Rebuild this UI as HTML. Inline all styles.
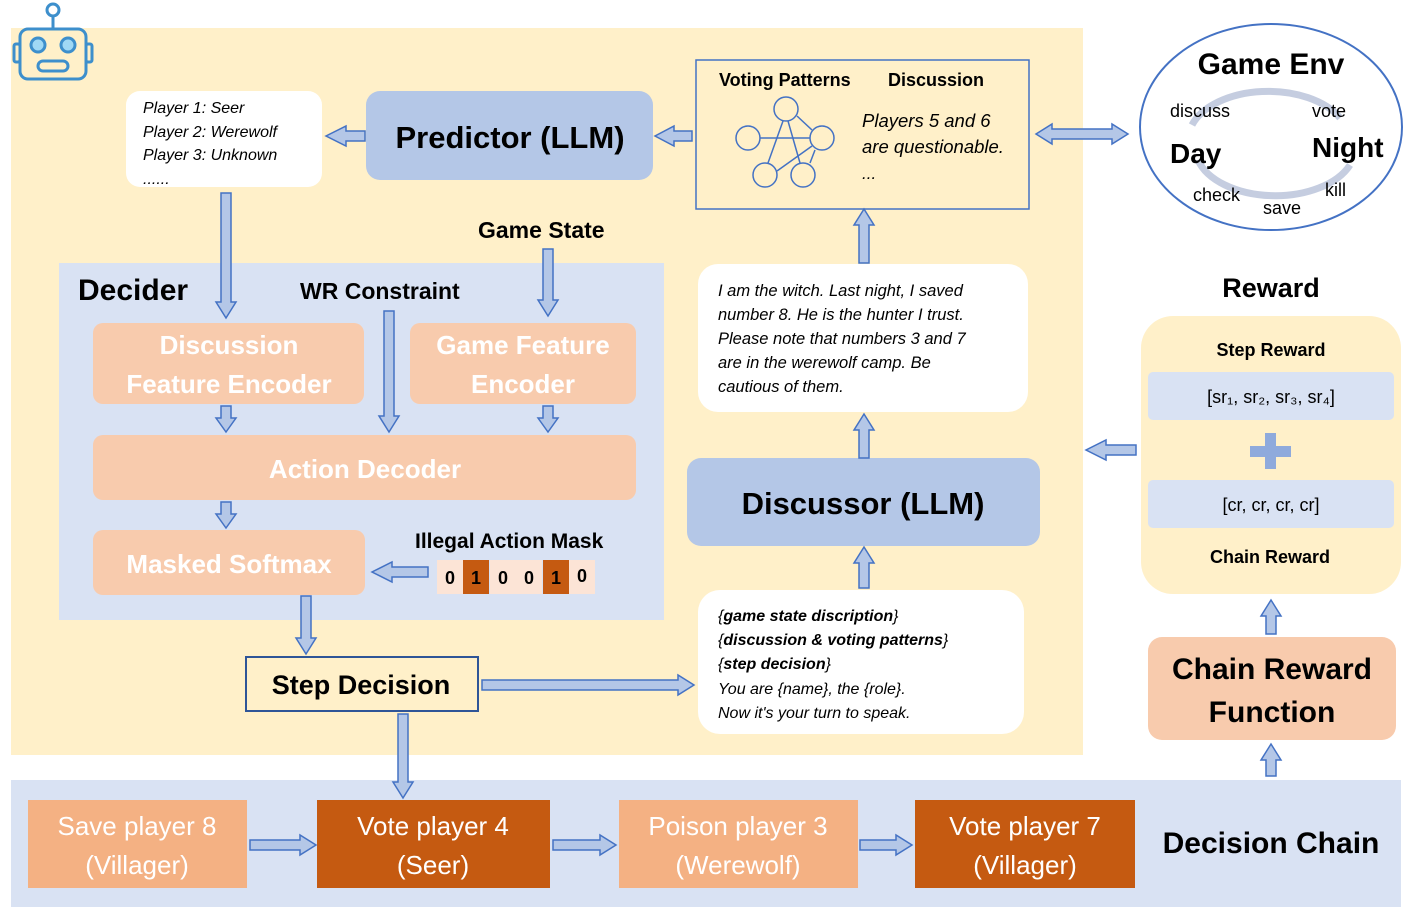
<!DOCTYPE html>
<html><head><meta charset="utf-8"><style>
html,body{margin:0;padding:0;background:#fff}
svg{display:block}
text{font-family:"Liberation Sans",sans-serif}
.a{fill:#b4c7e7;stroke:#4472c4;stroke-width:1.5}
.b{font-weight:bold}
.w{fill:#fff;font-weight:bold;font-size:26px}
.i{font-style:italic;font-size:16px}
.c{fill:#fff;font-size:26px}
</style></head><body>
<svg width="1411" height="914" viewBox="0 0 1411 914" xmlns="http://www.w3.org/2000/svg">
<rect x="11" y="28" width="1072" height="727" fill="#fff0c9"/>
<rect x="11" y="780" width="1390" height="127" fill="#d9e2f3"/>
<rect x="59" y="263" width="605" height="357" fill="#d9e2f3"/>

<g fill="none" stroke="#3d8fcc" stroke-width="3">
<circle cx="53" cy="10" r="6"/><line x1="53" y1="16" x2="53" y2="28"/>
<rect x="20" y="29" width="66" height="50" rx="8"/>
<rect x="14" y="44" width="6" height="18" rx="2"/><rect x="86" y="44" width="6" height="18" rx="2"/>
<rect x="38" y="61" width="30" height="10" rx="5"/>
</g>
<circle cx="38" cy="45" r="7" fill="#9fd8f5" stroke="#3d8fcc" stroke-width="3"/>
<circle cx="68" cy="45" r="7" fill="#9fd8f5" stroke="#3d8fcc" stroke-width="3"/>

<rect x="126" y="91" width="196" height="96" rx="14" fill="#fff"/>
<text class="i" x="143" y="113">Player 1: Seer</text>
<text class="i" x="143" y="137">Player 2: Werewolf</text>
<text class="i" x="143" y="160">Player 3: Unknown</text>
<text class="i" x="143" y="184">......</text>

<rect x="366" y="91" width="287" height="89" rx="14" fill="#b4c7e7"/>
<text class="b" x="510" y="148" font-size="31" text-anchor="middle">Predictor (LLM)</text>

<rect x="696" y="60" width="333" height="149" fill="none" stroke="#4472c4" stroke-width="1.5"/>
<text class="b" x="719" y="86" font-size="18">Voting Patterns</text>
<text class="b" x="888" y="86" font-size="18">Discussion</text>
<g fill="none" stroke="#4472c4" stroke-width="1.5">
<circle cx="786" cy="109" r="12"/><circle cx="748" cy="138" r="12"/><circle cx="822" cy="138" r="12"/>
<circle cx="765" cy="175" r="12"/><circle cx="803" cy="175" r="12"/>
<line x1="760" y1="138" x2="810" y2="138"/><line x1="783" y1="121" x2="768" y2="163"/>
<line x1="788" y1="121" x2="800" y2="163"/><line x1="777" y1="171" x2="812" y2="146"/>
<line x1="797" y1="116" x2="812" y2="130"/><line x1="810" y1="163" x2="815" y2="150"/>
</g>
<text class="i" x="862" y="127" style="font-size:18.5px">Players 5 and 6</text>
<text class="i" x="862" y="153" style="font-size:18.5px">are questionable.</text>
<text class="i" x="862" y="179" style="font-size:17px">...</text>

<ellipse cx="1271" cy="127" rx="131" ry="103" fill="#fff" stroke="#4472c4" stroke-width="2"/>
<path d="M1192 125 A80 48 0 0 1 1340 118" fill="none" stroke="#c5cde0" stroke-width="7"/>
<path d="M1350 165 A80 48 0 0 1 1198 160" fill="none" stroke="#c5cde0" stroke-width="7"/>
<text class="b" x="1271" y="74" font-size="30" text-anchor="middle">Game Env</text>
<text x="1170" y="117" font-size="18">discuss</text>
<text x="1312" y="117" font-size="18">vote</text>
<text class="b" x="1170" y="163" font-size="28">Day</text>
<text class="b" x="1312" y="157" font-size="28">Night</text>
<text x="1193" y="201" font-size="18">check</text>
<text x="1263" y="214" font-size="18">save</text>
<text x="1325" y="196" font-size="18">kill</text>

<text class="b" x="78" y="300" font-size="30">Decider</text>
<text class="b" x="300" y="299" font-size="23">WR Constraint</text>
<text class="b" x="478" y="238" font-size="23">Game State</text>
<rect x="93" y="323" width="271" height="81" rx="10" fill="#f8cbad"/>
<text class="w" x="229" y="354" text-anchor="middle">Discussion</text>
<text class="w" x="229" y="393" text-anchor="middle">Feature Encoder</text>
<rect x="410" y="323" width="226" height="81" rx="10" fill="#f8cbad"/>
<text class="w" x="523" y="354" text-anchor="middle">Game Feature</text>
<text class="w" x="523" y="393" text-anchor="middle">Encoder</text>
<rect x="93" y="435" width="543" height="65" rx="10" fill="#f8cbad"/>
<text class="w" x="365" y="478" text-anchor="middle">Action Decoder</text>
<rect x="93" y="530" width="272" height="65" rx="10" fill="#f8cbad"/>
<text class="w" x="229" y="573" text-anchor="middle">Masked Softmax</text>
<text class="b" x="415" y="548" font-size="21">Illegal Action Mask</text>
<g>
<rect x="437" y="560" width="26" height="34" fill="#fce4d6"/>
<rect x="463" y="560" width="26" height="34" fill="#c55a11"/>
<rect x="490" y="560" width="26" height="34" fill="#fce4d6"/>
<rect x="516" y="560" width="26" height="34" fill="#fce4d6"/>
<rect x="543" y="560" width="26" height="34" fill="#c55a11"/>
<rect x="569" y="560" width="26" height="34" fill="#fce4d6"/>
</g>
<g class="b" font-size="18" text-anchor="middle">
<text x="450" y="584">0</text><text x="476" y="584">1</text><text x="503" y="584">0</text><text x="529" y="584">0</text><text x="556" y="584">1</text><text x="582" y="582">0</text>
</g>

<rect x="246" y="657" width="232" height="54" fill="none" stroke="#2f5597" stroke-width="2"/>
<text class="b" x="361" y="694" font-size="27" text-anchor="middle">Step Decision</text>

<rect x="698" y="264" width="330" height="148" rx="20" fill="#fff"/>
<g class="i" style="font-size:16.5px">
<text x="718" y="296">I am the witch. Last night, I saved</text>
<text x="718" y="320">number 8. He is the hunter I trust.</text>
<text x="718" y="344">Please note that numbers 3 and 7</text>
<text x="718" y="368">are in the werewolf camp. Be</text>
<text x="718" y="392">cautious of them.</text>
</g>

<rect x="687" y="458" width="353" height="88" rx="14" fill="#b4c7e7"/>
<text class="b" x="863" y="514" font-size="31" text-anchor="middle">Discussor (LLM)</text>

<rect x="698" y="590" width="326" height="144" rx="22" fill="#fff"/>
<g class="i" font-size="16">
<text x="718" y="621">{<tspan font-weight="bold">game state discription</tspan>}</text>
<text x="718" y="645">{<tspan font-weight="bold">discussion &amp; voting patterns</tspan>}</text>
<text x="718" y="669">{<tspan font-weight="bold">step decision</tspan>}</text>
<text x="718" y="694">You are {name}, the {role}.</text>
<text x="718" y="718">Now it's your turn to speak.</text>
</g>

<text class="b" x="1271" y="297" font-size="27" text-anchor="middle">Reward</text>
<rect x="1141" y="316" width="260" height="278" rx="32" fill="#fff0c9"/>
<text class="b" x="1271" y="356" font-size="18" text-anchor="middle">Step Reward</text>
<rect x="1148" y="372" width="246" height="48" rx="5" fill="#d9e2f3"/>
<text x="1271" y="403" font-size="18" text-anchor="middle">[sr₁, sr₂, sr₃, sr₄]</text>
<rect x="1250" y="446" width="41" height="11" fill="#8faadc"/>
<rect x="1265" y="433" width="11" height="36" fill="#8faadc"/>
<rect x="1148" y="480" width="246" height="48" rx="5" fill="#d9e2f3"/>
<text x="1271" y="511" font-size="18" text-anchor="middle">[cr, cr, cr, cr]</text>
<text class="b" x="1270" y="563" font-size="18" text-anchor="middle">Chain Reward</text>

<rect x="1148" y="637" width="248" height="103" rx="14" fill="#f8cbad"/>
<text class="b" x="1272" y="679" font-size="30" text-anchor="middle">Chain Reward</text>
<text class="b" x="1272" y="722" font-size="30" text-anchor="middle">Function</text>

<rect x="28" y="800" width="219" height="88" fill="#f4b183"/>
<text class="c" x="137" y="835" text-anchor="middle">Save player 8</text>
<text class="c" x="137" y="874" text-anchor="middle">(Villager)</text>
<rect x="317" y="800" width="233" height="88" fill="#c55a11"/>
<text class="c" x="433" y="835" text-anchor="middle">Vote player 4</text>
<text class="c" x="433" y="874" text-anchor="middle">(Seer)</text>
<rect x="619" y="800" width="239" height="88" fill="#f4b183"/>
<text class="c" x="738" y="835" text-anchor="middle">Poison player 3</text>
<text class="c" x="738" y="874" text-anchor="middle">(Werewolf)</text>
<rect x="915" y="800" width="220" height="88" fill="#c55a11"/>
<text class="c" x="1025" y="835" text-anchor="middle">Vote player 7</text>
<text class="c" x="1025" y="874" text-anchor="middle">(Villager)</text>
<text class="b" x="1271" y="853" font-size="30" text-anchor="middle">Decision Chain</text>

<polygon class="a" points="365,131 346,131 346,126 326,136 346,146 346,141 365,141"/>
<polygon class="a" points="692,131 674,131 674,126 655,136 674,146 674,141 692,141"/>
<polygon class="a" points="428,567 392,567 392,562 372,572 392,582 392,577 428,577"/>
<polygon class="a" points="1136,445 1106,445 1106,440 1086,450 1106,460 1106,455 1136,455"/>
<polygon class="a" points="482,680 678,680 678,675 694,685 678,695 678,690 482,690"/>
<polygon class="a" points="250,840 300,840 300,835 316,845 300,855 300,850 250,850"/>
<polygon class="a" points="553,840 600,840 600,835 616,845 600,855 600,850 553,850"/>
<polygon class="a" points="860,840 896,840 896,835 912,845 896,855 896,850 860,850"/>
<polygon class="a" points="1036,134 1052,124 1052,129 1112,129 1112,124 1128,134 1112,144 1112,139 1052,139 1052,144"/>
<polygon class="a" points="221,193 231,193 231,302 236,302 226,318 216,302 221,302"/>
<polygon class="a" points="384,311 394,311 394,416 399,416 389,432 379,416 384,416"/>
<polygon class="a" points="543,249 553,249 553,300 558,300 548,316 538,300 543,300"/>
<polygon class="a" points="221,406 231,406 231,418 236,418 226,432 216,418 221,418"/>
<polygon class="a" points="543,406 553,406 553,418 558,418 548,432 538,418 543,418"/>
<polygon class="a" points="221,502 231,502 231,514 236,514 226,528 216,514 221,514"/>
<polygon class="a" points="301,596 311,596 311,638 316,638 306,654 296,638 301,638"/>
<polygon class="a" points="398,714 408,714 408,782 413,782 403,798 393,782 398,782"/>
<polygon class="a" points="859,588 869,588 869,563 874,563 864,547 854,563 859,563"/>
<polygon class="a" points="859,458 869,458 869,430 874,430 864,414 854,430 859,430"/>
<polygon class="a" points="859,263 869,263 869,225 874,225 864,209 854,225 859,225"/>
<polygon class="a" points="1266,634 1276,634 1276,616 1281,616 1271,600 1261,616 1266,616"/>
<polygon class="a" points="1266,776 1276,776 1276,760 1281,760 1271,744 1261,760 1266,760"/>
</svg>
</body></html>
